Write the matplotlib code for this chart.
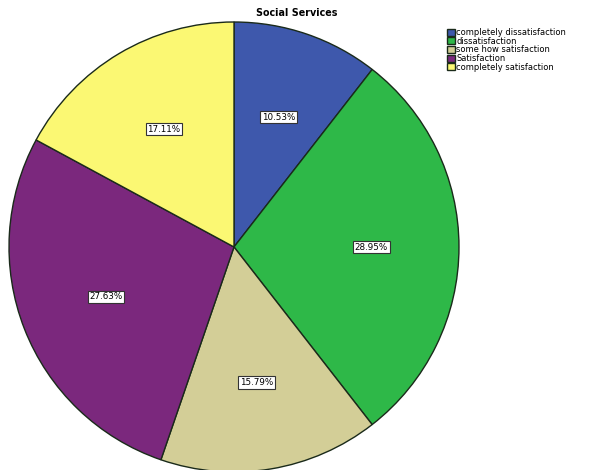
import matplotlib
matplotlib.use('Agg')
import matplotlib.pyplot as plt

categories = ["completely dissatisfaction", "dissatisfaction", "some how satisfaction",
              "Satisfaction", "completely satisfaction"]
percents = [10.53, 28.95, 15.79, 27.63, 17.11]
colors = ["#3e58ac", "#2eb848", "#d3ce97", "#7b287d", "#fbf873"]

fig = plt.figure(figsize=(5.93, 4.70), dpi=100)
ax = fig.add_axes([0.0152, -0.0042, 0.7588, 0.9574])

wedges, texts, autotexts = ax.pie(
    percents, colors=colors, startangle=90, counterclock=False,
    autopct=lambda p: f"{p:.2f}%", pctdistance=0.61,
    wedgeprops=dict(edgecolor="#1a2a1a", linewidth=1.0), radius=1.0)

for t in autotexts:
    t.set_fontsize(6.3)
    t.set_color("black")
    t.set_bbox(dict(facecolor="white", edgecolor="#333333", pad=1.2, linewidth=0.8))

ax.set_xlim(-1.0, 1.0)
ax.set_ylim(-1.0, 1.0)
ax.set_aspect('equal')
ax.axis('off')

fig.text(0.5, 0.972, "Social Services", fontsize=6.9, fontweight='bold',
         ha='center', va='center')

leg = fig.legend(wedges, categories, loc='upper left', bbox_to_anchor=(0.754, 0.94),
                 frameon=False, fontsize=6.0, handlelength=0.9, handleheight=0.9,
                 handletextpad=0.2, labelspacing=-0.05, borderpad=0.0,
                 borderaxespad=0.0)

plt.savefig("out.png", dpi=100)
